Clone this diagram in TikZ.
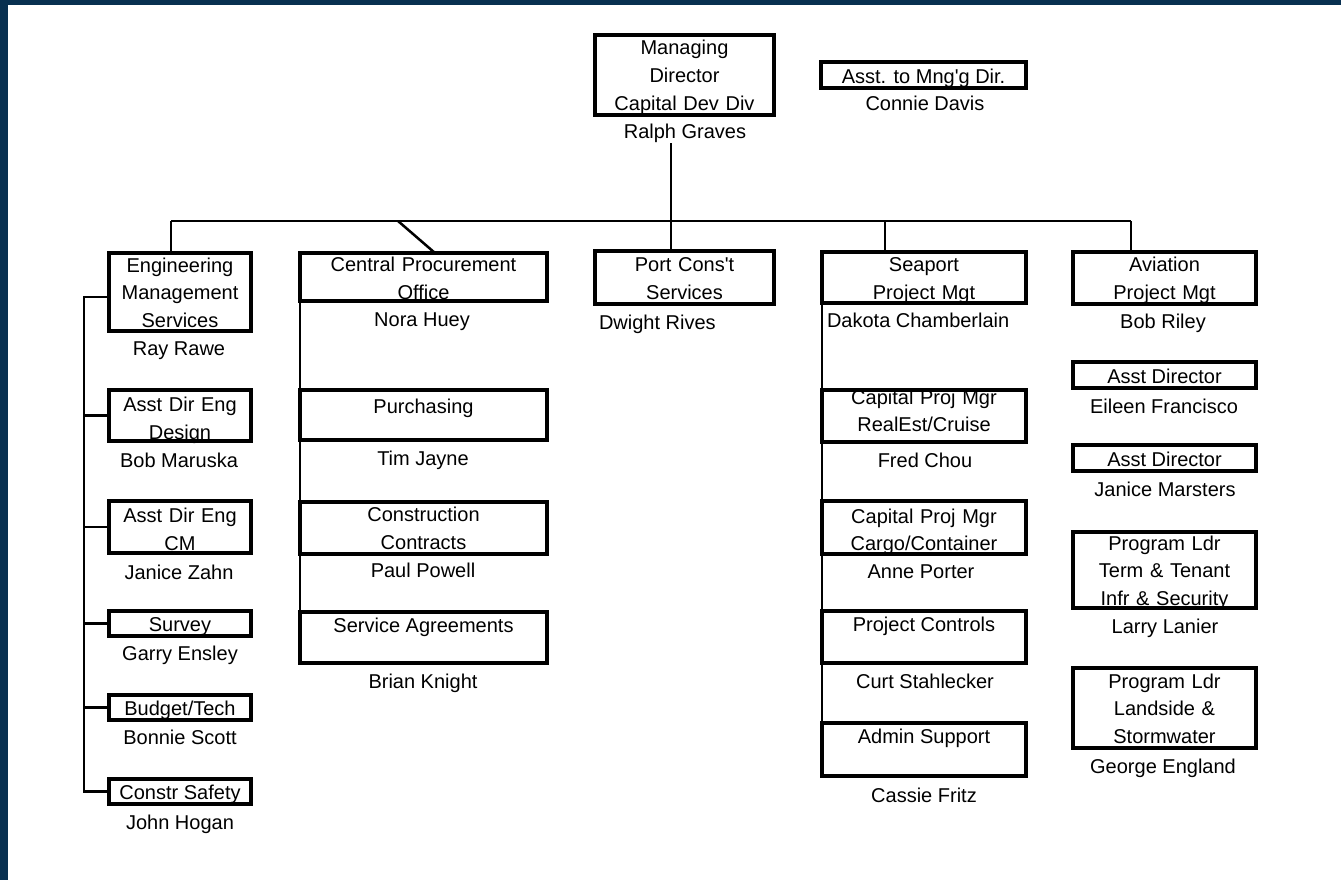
\documentclass[tikz,border=0pt]{standalone}
\usepackage{fontspec}
\setmainfont{Liberation Sans}[Ligatures=TeXOff]
\usetikzlibrary{calc}
\definecolor{navy}{RGB}{8,48,80}
\begin{document}
\begin{tikzpicture}[x=1pt,y=-1pt,
  every node/.style={font=\fontsize{20pt}{27.5pt}\selectfont, inner sep=0pt, outer sep=0pt},
  box/.style={draw, line width=4.5pt, align=center},
  sbox/.style={box, text height=16.5pt, text depth=0pt},
  fb/.style={text height=10pt, text depth=#1},
  pname/.style={anchor=base},
  link/.style={line width=2.5pt},
  bracket/.style={line width=2.7pt},
  side/.style={line width=1.6pt}
]
\useasboundingbox (0,0) rectangle (1341,880);
\fill[navy] (0,0) rectangle (1341,880);
\fill[white] (8,5) rectangle (1341,880);

% top
\node[box, text width=177pt, minimum width=179pt, minimum height=80pt, fb=50pt, font=\fontsize{20pt}{28pt}\selectfont] (md) at (684.5,75) {Managing\\Director\\Capital Dev Div};
\node[pname] (rgraves) at (685,139) {Ralph Graves};
\node[sbox, minimum width=205pt, minimum height=26pt] (asst) at (923.5,75) {Asst. to Mng'g Dir.};
\node[pname] (cdavis) at (925,111) {Connie Davis};

% engineering column
\node[box, text width=140pt, minimum width=142pt, minimum height=78pt, fb=50pt] (ems) at (180,292) {Engineering\\Management\\Services};
\node[pname] (rrawe) at (179,355) {Ray Rawe};
\node[box, text width=140pt, minimum width=142pt, minimum height=51pt, fb=18pt] (design) at (180,415.5) {Asst Dir Eng\hspace*{16pt}\\Design\hspace*{10pt}};
\node[pname] (bmaruska) at (179,467) {Bob Maruska};
\node[box, text width=140pt, minimum width=142pt, minimum height=52pt, fb=19pt] (cm) at (180,527) {Asst Dir Eng\hspace*{16pt}\\CM\hspace*{10pt}};
\node[pname] (jzahn) at (179,579) {Janice Zahn};
\node[sbox, minimum width=142pt, minimum height=25pt] (survey) at (180,623.5) {Survey};
\node[pname] (gensley) at (180,660) {Garry Ensley};
\node[sbox, minimum width=142pt, minimum height=25pt] (budget) at (180,707.5) {Budget/Tech};
\node[pname] (bscott) at (180,744) {Bonnie Scott};
\node[sbox, minimum width=142pt, minimum height=25pt] (safety) at (180,791.5) {Constr Safety};
\node[pname] (jhogan) at (180,829) {John Hogan};

% procurement column
\node[box, text width=245pt, minimum width=247pt, minimum height=48pt, fb=20.6pt] (cpo) at (423.5,277) {Central Procurement\\Office};
\node[pname] (nhuey) at (422,326) {Nora Huey};
\node[box, minimum width=247pt, minimum height=50pt, fb=13.4pt] (purch) at (423.5,415) {Purchasing};
\node[pname] (tjayne) at (423,465) {Tim Jayne};
\node[box, text width=245pt, minimum width=247pt, minimum height=52pt, fb=22.6pt] (cc) at (423.5,528) {Construction\\Contracts};
\node[pname] (ppowell) at (423,577) {Paul Powell};
\node[box, minimum width=247pt, minimum height=51pt, fb=21pt] (svc) at (423.5,637.5) {Service Agreements};
\node[pname] (bknight) at (423,688) {Brian Knight};

% port
\node[box, text width=177pt, minimum width=179pt, minimum height=53pt, fb=21.6pt] (port) at (684.5,277.5) {Port Cons't\\Services};
\node[anchor=base west] (drives) at (599,329) {Dwight Rives};

% seaport column
\node[box, text width=202pt, minimum width=204pt, minimum height=51pt, fb=21.6pt] (sea) at (924,277.5) {Seaport\\Project Mgt};
\node[anchor=base west] (dchamb) at (827,327) {Dakota Chamberlain};
\node[box, text width=202pt, minimum width=204pt, minimum height=52pt, fb=34pt] (realest) at (924,416) {Capital Proj Mgr\\RealEst/Cruise};
\node[pname] (fchou) at (925,467) {Fred Chou};
\node[box, text width=202pt, minimum width=204pt, minimum height=53pt, fb=18.4pt] (cargo) at (924,527.5) {Capital Proj Mgr\\Cargo/Container};
\node[pname] (aporter) at (921,578) {Anne Porter};
\node[box, minimum width=204pt, minimum height=52pt, fb=20.6pt] (ctrl) at (924,637) {Project Controls};
\node[pname] (cstahl) at (925,688) {Curt Stahlecker};
\node[box, minimum width=204pt, minimum height=53pt, fb=22.4pt] (admin) at (924,749.5) {Admin Support};
\node[pname] (cfritz) at (924,802) {Cassie Fritz};

% aviation column
\node[box, text width=181pt, minimum width=183pt, minimum height=52pt, fb=22.6pt] (avi) at (1164.5,278) {Aviation\\Project Mgt};
\node[pname] (briley) at (1163,328) {Bob Riley};
\node[sbox, minimum width=183pt, minimum height=26pt] (ad1) at (1164.5,375) {Asst Director};
\node[pname] (efran) at (1164,413) {Eileen Francisco};
\node[sbox, minimum width=183pt, minimum height=26pt] (ad2) at (1164.5,458) {Asst Director};
\node[pname] (jmarst) at (1165,496) {Janice Marsters};
\node[box, text width=181pt, minimum width=183pt, minimum height=76pt, fb=50pt] (term) at (1164.5,570) {Program Ldr\\Term \& Tenant\\Infr \& Security};
\node[pname] (llanier) at (1165,633) {Larry Lanier};
\node[box, text width=181pt, minimum width=183pt, minimum height=80pt, fb=50pt] (land) at (1164.5,708) {Program Ldr\\Landside \&\\Stormwater};
\node[pname] (gengland) at (1163,773) {George England};

% bus and connectors
\coordinate (busL) at (171,221);
\coordinate (busR) at (1131,221);
\coordinate (mdj) at (671,221);
\coordinate (cpoj) at (398,221);
\coordinate (seaj) at (885,221);
\draw[link] (busL) -- (busR);
\draw[link] (busL) -- (busL |- ems.north);
\draw[link] (mdj |- rgraves.south) -- (mdj |- port.north);
\draw[link] (cpoj) -- ($(cpo.north)+(11.5,0)$);
\draw[link] (seaj) -- (seaj |- sea.north);
\draw[link] (busR) -- (busR |- avi.north);

% engineering bracket
\coordinate (brx) at (84,0);
\draw[bracket] ($(ems.west)+(0,5)$) -- ($(brx |- ems.west)+(0,5)$) -- (brx |- safety.west) -- (safety.west);
\foreach \b in {design,cm,survey,budget}
  \draw[bracket] (brx |- \b.west) -- (\b.west);

% side lines
\draw[side] (cpo.south west) -- (svc.north west);
\draw[side] (sea.south west) -- (admin.north west);
\end{tikzpicture}
\end{document}
